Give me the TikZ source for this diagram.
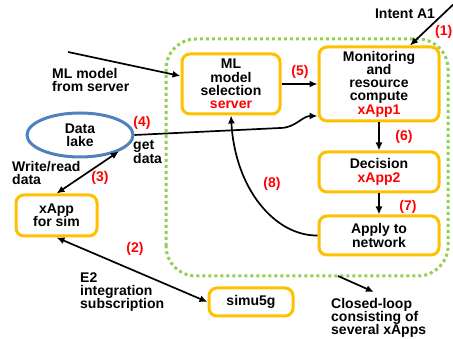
\documentclass[tikz,border=0pt]{standalone}
\usepackage{fontspec}
\setmainfont{Liberation Sans}
\usetikzlibrary{shapes.geometric,arrows.meta}
\definecolor{boxorange}{HTML}{FFC000}
\definecolor{loopgreen}{HTML}{92D050}
\definecolor{lakeblue}{HTML}{4F81BD}

\begin{document}
\begin{tikzpicture}[x=1pt,y=1pt,>={Latex[length=8pt,width=7pt]},
    font=\fontsize{14}{13.3}\selectfont\bfseries,
    box/.style={draw=boxorange, line width=3pt, rounded corners=8pt, align=center, inner sep=0pt},
    num/.style={text=red, inner sep=0pt},
    lbl/.style={anchor=west, align=left, inner sep=0pt},
    arr/.style={->, line width=1.7pt}]
    \useasboundingbox (0,0) rectangle (453,339);
    \draw[loopgreen, line width=3pt, dash pattern=on 3pt off 3pt, rounded corners=30pt](166,63) rectangle (448,300);
    \node[box, minimum width=98pt, minimum height=60pt] (ml) at (231,255) {ML\\model\\selection\\\textcolor{red}{server}};
    \node[box, minimum width=120pt, minimum height=74pt] (mon) at (379,255) {Monitoring\\and\\resource\\compute\\\textcolor{red}{xApp1}};
    \node[box, minimum width=120pt, minimum height=40pt] (dec) at (379,167) {Decision\\\textcolor{red}{xApp2}};
    \node[box, minimum width=120pt, minimum height=39pt] (app) at (379,103.5) {Apply to\\network};
    \node[box, minimum width=81pt, minimum height=41pt] (xsim) at (56.5,123.5) {xApp\\for sim};
    \node[box, minimum width=84pt, minimum height=28pt] (simu) at (251,37) {simu5g};
    \node[draw=lakeblue, line width=3pt, ellipse, minimum width=106pt, minimum height=44pt, align=center, inner sep=0pt] (lake) at (80,204) {Data\\lake};
    \node[inner sep=0pt] (intent) at (405,325) {Intent A1};
    \node[lbl] (mlsrv) at (52,259) {ML model\\from server};
    \node[lbl] (getd) at (133,187) {get\\data};
    \node[lbl] (wrd) at (12,166) {Write/read\\data};
    \node[lbl] (e2) at (80,47) {E2\\integration\\subscription};
    \node[lbl] (cl) at (331,21) {Closed-loop\\consisting of\\several xApps};
    \node[num, anchor=east] (n1) at (452.5,307) {(1)};
    \node[num] (n2) at (135,90) {(2)};
    \node[num] (n3) at (100,161) {(3)};
    \node[num] (n4) at (142,216) {(4)};
    \node[num] (n5) at (300,267) {(5)};
    \node[num] (n6) at (404,202) {(6)};
    \node[num] (n7) at (408,132) {(7)};
    \node[num] (n8) at (272,155) {(8)};
    \coordinate (mlfrom) at (68,287);
    \coordinate (intfrom) at (458,339);
    \coordinate (loopbot) at (338,63);
    \coordinate (loopto) at (374,47);
    \draw[arr](mlfrom)--([yshift=8pt]ml.west);
    \draw[arr](intfrom)--([xshift=31pt]mon.north);
    \draw[arr](ml.east)--(mon.west);
    \draw[arr](lake.east)--(280,211) to[out=0,in=180]([yshift=-32pt]mon.west);
    \draw[arr](mon.south)--(dec.north);
    \draw[arr](dec.south)--(app.north);
    \draw[arr](app.west) .. controls (275,103) and (235,150) .. (ml.south);
    \draw[arr, <->](lake.-23)--(xsim.north);
    \draw[arr, <->](xsim.south)--(simu.west);
    \draw[arr](loopbot)--(loopto);
\end{tikzpicture}
\end{document}
